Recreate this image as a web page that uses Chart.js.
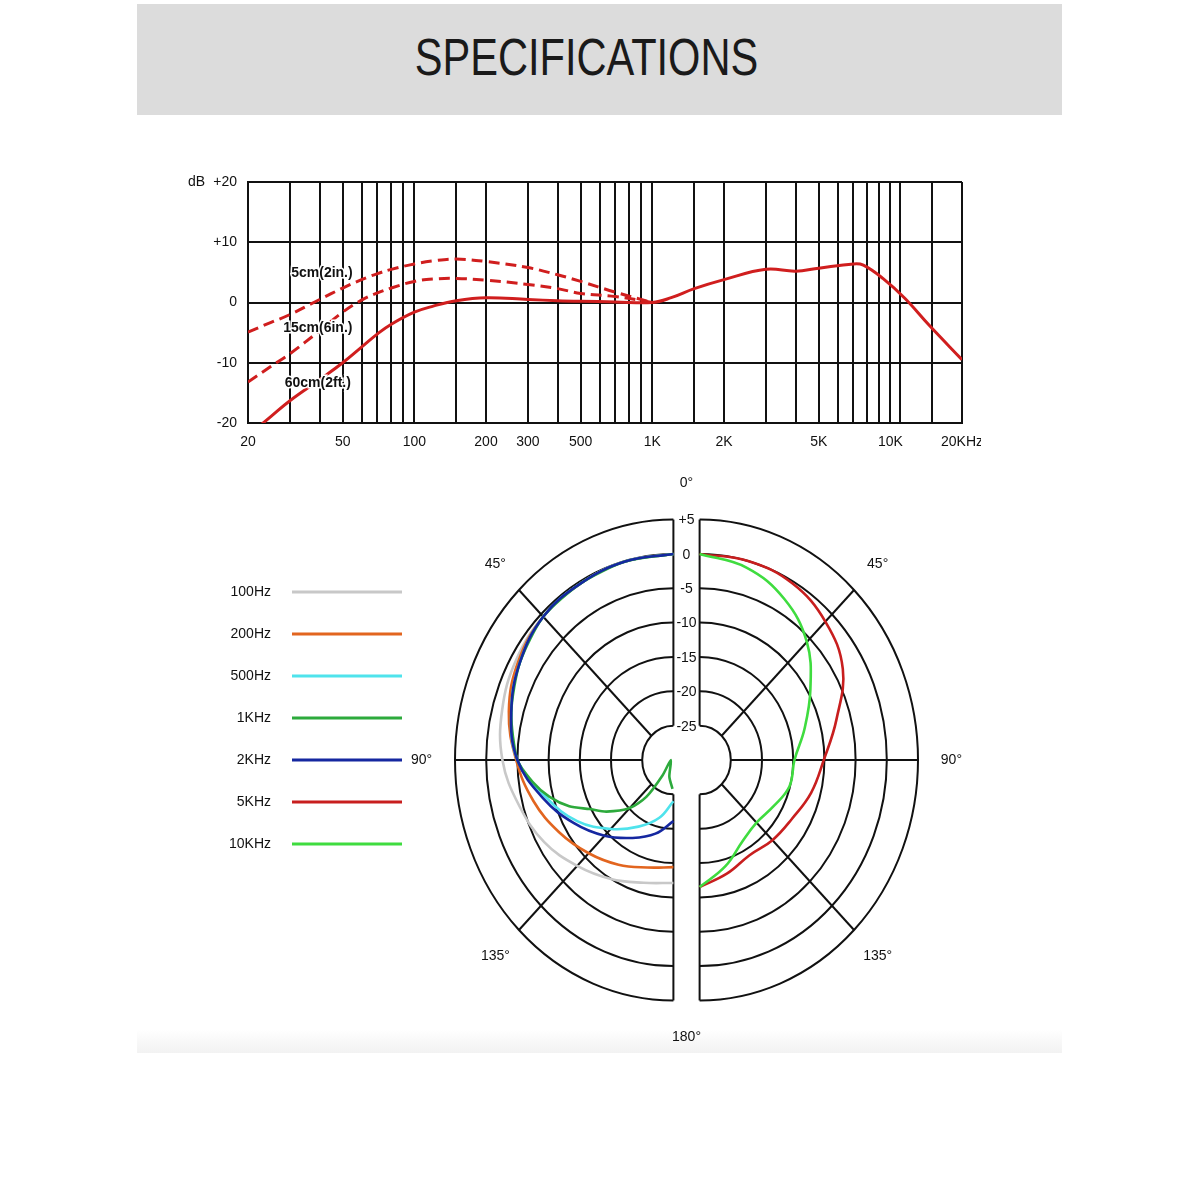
<!DOCTYPE html>
<html>
<head>
<meta charset="utf-8">
<script src="https://cdn.jsdelivr.net/npm/chart.js@4.4.1/dist/chart.umd.min.js"></script>
<style>
  body { margin: 0; background: #fff; }
  #page { position: relative; width: 1200px; height: 1200px; overflow: hidden; }
  #header { position: absolute; left: 137px; top: 4px; width: 925px; height: 111px; background: #dcdcdc; }
  #title {
    position: absolute; left: 124px; top: 32px; width: 925px; text-align: center;
    font: 51px/51px "Liberation Sans", Arial, sans-serif; color: #1a1a1a;
    transform: scaleX(0.815); transform-origin: center;
  }
  #fade { position: absolute; left: 137px; top: 1029px; width: 925px; height: 24px;
    background: linear-gradient(#ffffff, #f2f2f2); }
  canvas { position: absolute; }
</style>
</head>
<body>
<div id="page">
  <div id="header"></div>
  <div id="title">SPECIFICATIONS</div>
  <div id="fade"></div>
  <canvas id="freqChart" width="793" height="292" style="left:188px;top:170px"></canvas>
  <canvas id="polarChart" width="800" height="580" style="left:180px;top:470px"></canvas>
</div>
<script>
// ---------- frequency response data ----------
const freqHz   = [20, 25, 30, 40, 50, 60, 70, 80, 100, 120, 150, 200, 300, 400, 500, 700, 1000,
                  1200, 1500, 2000, 3000, 4000, 5000, 7000, 7700, 9300, 11500, 14500, 20000];
const resp60cm = [-22.1, -18.9, -16.3, -12.8, -10.0, -7.4, -5.2, -3.6, -1.6, -0.6, 0.3, 0.8, 0.5, 0.3, 0.2, 0.1, 0,
                  0.8, 2.3, 3.8, 5.5, 5.2, 5.7, 6.4, 6.2, 4.0, 0.7, -3.7, -9.5];
const resp15cm = [-13.2, -10.6, -8.5, -4.7, -1.6, 0.4, 1.6, 2.4, 3.5, 3.9, 4.0, 3.7, 3.0, 2.3, 1.5, 1.0, 0];
const resp5cm  = [-4.9, -3.3, -2.0, 0.5, 2.4, 3.8, 4.8, 5.5, 6.4, 6.9, 7.2, 6.8, 5.8, 4.6, 3.5, 1.7, 0];
const curveNames = ['5cm(2in.)', '15cm(6in.)', '60cm(2ft.)'];

// grid lines and tick labels of the frequency axis
const freqGrid   = [20, 30, 40, 50, 60, 70, 80, 90, 100, 150, 200, 300, 400, 500, 600, 700, 800, 900, 1000,
                    1500, 2000, 3000, 4000, 5000, 6000, 7000, 8000, 9000, 10000, 11000, 15000, 20000];
const freqTicks  = [20, 50, 100, 200, 300, 500, 1000, 2000, 5000, 10000, 20000];
const freqLabels = ['20', '50', '100', '200', '300', '500', '1K', '2K', '5K', '10K', '20KHz'];
const dbTicks    = [-20, -10, 0, 10, 20];

// ---------- polar pattern data (angle in degrees, level in dB) ----------
const polarAngles = [0, 15, 30, 45, 60, 75, 90, 105, 120, 135, 150, 165, 180];
const level100Hz  = [0, -0.1, -0.3, -0.5, -0.9, -1.6, -2.6, -4.4, -6.1, -8.2, -10.0, -11.5, -12.1];
const level200Hz  = [0, -0.1, -0.3, -0.5, -1.3, -2.7, -4.8, -6.8, -8.9, -10.8, -12.4, -13.8, -14.4];
const level500Hz  = [0, -0.1, -0.3, -0.5, -1.6, -3.1, -5.0, -8.9, -12.2, -15.8, -18.8, -21.3, -24.0];
const angles1kHz  = [0, 15, 30, 45, 60, 75, 90, 98, 105, 112, 118, 125, 135, 141, 142, 90, 165, 178];
const level1kHz   = [0, -0.1, -0.3, -0.5, -1.6, -3.1, -5.0, -7.2, -9.4, -12.0, -14.8, -16.9, -20.1, -23.1, -27.2, -29.6, -27.5, -25.8];
const level2kHz   = [0, -0.1, -0.3, -0.5, -1.6, -3.1, -5.0, -8.4, -11.6, -14.4, -16.9, -18.9, -21.1];
const level5kHz   = [0, 0, -0.3, -1.5, -3.5, -7.3, -10.1, -11.5, -12.9, -13.5, -14.0, -12.9, -11.5];
const level10kHz  = [0, -1.0, -2.9, -5.7, -9.5, -12.6, -14.8, -15.1, -16.4, -17.1, -16.3, -14.0, -11.5];

const ringLevels  = [-25, -20, -15, -10, -5, 0, 5];
const spokeAngles = [0, 45, 90, 135, 180];
const angleLabels = ['0°', '45°', '90°', '135°', '180°'];

const DB_MIN = -30, DB_STEP = 5, HALF_GAP = 0.42;
const RED = '#d01e1e';
const INK = '#111';
const FONT = '"Liberation Sans", Arial, sans-serif';

// ==========================================================
// Frequency response
// ==========================================================
function toPoints(xs, ys) {
    return ys.map((y, i) => ({ x: xs[i], y: y }));
}

const curveLabelPlugin = {
    id: 'curveLabels',
    afterDatasetsDraw(chart) {
        const { ctx, scales: { x, y } } = chart;
        // anchors in (Hz, dB)
        const anchors = [[40.9, 4.9], [39.3, -4.2], [39.3, -13.4]];
        ctx.save();
        ctx.font = 'bold 14px ' + FONT;
        ctx.textAlign = 'center';
        ctx.textBaseline = 'middle';
        ctx.lineWidth = 3;
        ctx.strokeStyle = '#fff';
        ctx.fillStyle = INK;
        curveNames.forEach((name, i) => {
            const px = x.getPixelForValue(anchors[i][0]);
            const py = y.getPixelForValue(anchors[i][1]);
            ctx.strokeText(name, px, py);
            ctx.fillText(name, px, py);
        });
        // unit label left of the top tick
        ctx.font = '14px ' + FONT;
        ctx.textAlign = 'right';
        ctx.fillText('dB', 17, y.getPixelForValue(20));
        ctx.restore();
    }
};

new Chart(document.getElementById('freqChart'), {
    type: 'scatter',
    data: {
        datasets: [
            { label: curveNames[0], data: toPoints(freqHz, resp5cm), borderDash: [11, 6] },
            { label: curveNames[1], data: toPoints(freqHz, resp15cm), borderDash: [11, 6] },
            { label: curveNames[2], data: toPoints(freqHz, resp60cm) }
        ].map(d => Object.assign(d, {
            showLine: true, borderColor: RED, borderWidth: 3, pointRadius: 0, tension: 0.4, fill: false
        }))
    },
    options: {
        responsive: false,
        animation: false,
        devicePixelRatio: 1,
        layout: { padding: { top: 12, right: 19, left: 0, bottom: 0 } },
        plugins: { legend: { display: false }, tooltip: { enabled: false } },
        scales: {
            x: {
                type: 'logarithmic', min: 20, max: 20000,
                afterBuildTicks: s => { s.ticks = freqGrid.map(v => ({ value: v })); },
                afterFit: s => { s.height = 39; s.paddingLeft = 0; s.paddingRight = 0; },
                ticks: {
                    autoSkip: false, maxRotation: 0, padding: 11, color: INK,
                    font: { family: FONT, size: 14 },
                    callback: v => { const k = freqTicks.indexOf(v); return k < 0 ? '' : freqLabels[k]; }
                },
                grid: { color: INK, lineWidth: 2, drawTicks: false },
                border: { color: INK, width: 2 }
            },
            y: {
                min: -20, max: 20,
                afterBuildTicks: s => { s.ticks = dbTicks.map(v => ({ value: v })); },
                afterFit: s => { s.width = 60; s.paddingTop = 0; s.paddingBottom = 0; },
                ticks: {
                    padding: 11, color: INK, font: { family: FONT, size: 14 },
                    callback: v => (v > 0 ? '+' + v : String(v))
                },
                grid: { color: INK, lineWidth: 2, drawTicks: false },
                border: { color: INK, width: 2 }
            }
        }
    },
    plugins: [curveLabelPlugin]
});

// ==========================================================
// Polar pattern (left half: low frequencies, right half: highs)
// ==========================================================
function polarPoints(side, angles, levels) {
    return levels.map((lv, i) => {
        const r = (lv - DB_MIN) / DB_STEP;
        const t = angles[i] * Math.PI / 180;
        return { x: side * (HALF_GAP + r * Math.sin(t)), y: r * Math.cos(t) };
    });
}

const polarGridPlugin = {
    id: 'polarGrid',
    beforeDatasetsDraw(chart) {
        const { ctx, scales: { x, y } } = chart;
        const ux = x.getPixelForValue(1) - x.getPixelForValue(0);
        const uy = y.getPixelForValue(0) - y.getPixelForValue(1);
        const cy = y.getPixelForValue(0);
        const rIn = (ringLevels[0] - DB_MIN) / DB_STEP;
        const rOut = (ringLevels[ringLevels.length - 1] - DB_MIN) / DB_STEP;
        ctx.save();
        ctx.strokeStyle = INK;
        ctx.lineWidth = 2;
        [-1, 1].forEach(side => {
            const cx = x.getPixelForValue(side * HALF_GAP);
            ringLevels.forEach(lv => {
                const r = (lv - DB_MIN) / DB_STEP;
                ctx.beginPath();
                ctx.ellipse(cx, cy, r * ux, r * uy, 0, -Math.PI / 2, Math.PI / 2, side < 0);
                ctx.stroke();
            });
            spokeAngles.forEach(a => {
                const t = a * Math.PI / 180;
                ctx.beginPath();
                ctx.moveTo(cx + side * rIn * Math.sin(t) * ux, cy - rIn * Math.cos(t) * uy);
                ctx.lineTo(cx + side * rOut * Math.sin(t) * ux, cy - rOut * Math.cos(t) * uy);
                ctx.stroke();
            });
        });
        ctx.restore();
    },
    afterDatasetsDraw(chart) {
        const { ctx, scales: { x, y } } = chart;
        const ux = x.getPixelForValue(1) - x.getPixelForValue(0);
        const uy = y.getPixelForValue(0) - y.getPixelForValue(1);
        const cy = y.getPixelForValue(0);
        ctx.save();
        ctx.fillStyle = INK;
        ctx.font = '14px ' + FONT;
        ctx.textAlign = 'center';
        ctx.textBaseline = 'middle';
        // ring levels between the halves
        ringLevels.forEach(lv => {
            const r = (lv - DB_MIN) / DB_STEP;
            ctx.fillText(lv > 0 ? '+' + lv : String(lv), x.getPixelForValue(0), cy - r * uy + 1);
        });
        // angle labels
        const rLab = 8.07;
        spokeAngles.forEach((a, i) => {
            const t = a * Math.PI / 180;
            const sides = (a === 0 || a === 180) ? [0] : [-1, 1];
            sides.forEach(side => {
                const cx = x.getPixelForValue(side * HALF_GAP);
                ctx.fillText(angleLabels[i], cx + side * rLab * Math.sin(t) * ux, cy - rLab * Math.cos(t) * uy);
            });
        });
        ctx.restore();
    }
};

const legendPlugin = {
    id: 'sideLegend',
    afterDraw(chart) {
        const { ctx } = chart;
        ctx.save();
        ctx.font = '14px ' + FONT;
        ctx.textAlign = 'right';
        ctx.textBaseline = 'middle';
        chart.data.datasets.forEach((ds, i) => {
            const yy = 122 + i * 42;
            ctx.fillStyle = INK;
            ctx.fillText(ds.label, 91, yy);
            ctx.strokeStyle = ds.borderColor;
            ctx.lineWidth = 3;
            ctx.beginPath();
            ctx.moveTo(112, yy);
            ctx.lineTo(222, yy);
            ctx.stroke();
        });
        ctx.restore();
    }
};

const polarSeries = [
    { label: '100Hz', side: -1, angles: polarAngles, levels: level100Hz, color: '#c8c8c8' },
    { label: '200Hz', side: -1, angles: polarAngles, levels: level200Hz, color: '#e2651f' },
    { label: '500Hz', side: -1, angles: polarAngles, levels: level500Hz, color: '#4fe3ec' },
    { label: '1KHz', side: -1, angles: angles1kHz, levels: level1kHz, color: '#2daa3c' },
    { label: '2KHz', side: -1, angles: polarAngles, levels: level2kHz, color: '#1527a0' },
    { label: '5KHz', side: 1, angles: polarAngles, levels: level5kHz, color: '#c81e1e' },
    { label: '10KHz', side: 1, angles: polarAngles, levels: level10kHz, color: '#3fdc3f' }
];

new Chart(document.getElementById('polarChart'), {
    type: 'scatter',
    data: {
        datasets: polarSeries.map((s, i) => ({
            label: s.label,
            data: polarPoints(s.side, s.angles, s.levels),
            showLine: true,
            borderColor: s.color,
            borderWidth: 2.6,
            pointRadius: 0,
            tension: s.label === '1KHz' ? 0.25 : 0.4,
            order: polarSeries.length - i
        }))
    },
    options: {
        responsive: false,
        animation: false,
        devicePixelRatio: 1,
        layout: { padding: 0 },
        plugins: { legend: { display: false }, tooltip: { enabled: false } },
        scales: {
            x: { type: 'linear', min: -16.234, max: 9.407, display: false },
            y: { type: 'linear', min: -8.443, max: 8.443, display: false }
        }
    },
    plugins: [polarGridPlugin, legendPlugin]
});
</script>
</body>
</html>
